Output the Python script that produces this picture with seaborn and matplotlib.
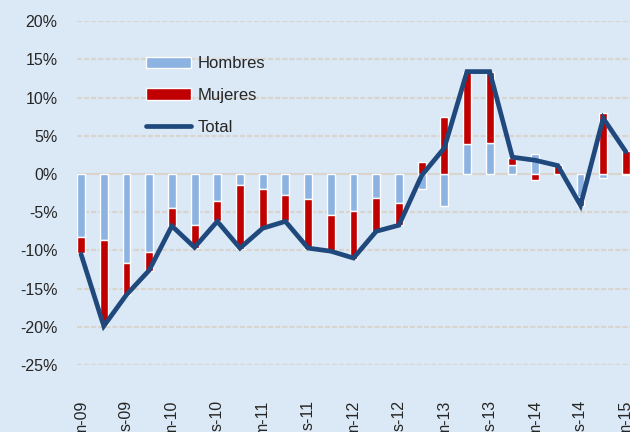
# Variación interanual del empleo por sexo (contribuciones) y total
import numpy as np
import pandas as pd
import matplotlib
matplotlib.use("Agg")
import matplotlib.pyplot as plt
import seaborn as sns

# ------------------------------
# Data (percentage points)
# ------------------------------
quarters = [
    "m-09", "j-09", "s-09", "d-09",
    "m-10", "j-10", "s-10", "d-10",
    "m-11", "j-11", "s-11", "d-11",
    "m-12", "j-12", "s-12", "d-12",
    "m-13", "j-13", "s-13", "d-13",
    "m-14", "j-14", "s-14", "d-14",
    "m-15",
]
hombres = [-8.2, -8.6, -11.6, -10.25, -4.4, -6.7, -3.5, -1.45,
           -2.0, -2.8, -3.3, -5.4, -4.9, -3.1, -3.75, -1.9,
           -4.15, 3.9, 4.1, 1.2, 2.6, 0.05, -2.95, -0.55, -0.1]
mujeres = [-2.2, -11.2, -4.2, -2.4, -2.4, -3.0, -2.65, -8.3,
           -5.1, -3.4, -6.5, -4.7, -6.2, -4.45, -2.95, 1.6,
           7.5, 9.5, 9.3, 0.85, -0.8, 1.1, -1.2, 7.95, 3.0]
total = [-10.5, -19.9, -15.8, -12.6, -6.8, -9.6, -6.2, -9.7,
         -7.1, -6.2, -9.7, -10.1, -11.0, -7.5, -6.7, -0.2,
         3.4, 13.4, 13.4, 2.2, 1.8, 1.1, -4.1, 7.3, 2.9]

df = pd.DataFrame({"q": quarters, "Hombres": hombres,
                   "Mujeres": mujeres, "Total": total})
df["pos"] = np.arange(len(df))
# Excel-style stacking: same sign stacks on Hombres, opposite sign starts at 0
same_sign = np.sign(df["Mujeres"]) == np.sign(df["Hombres"])
df["m_bottom"] = np.where(same_sign, df["Hombres"], 0.0)

# ------------------------------
# Style
# ------------------------------
bg = "#DBE8F5"
c_h = "#8DB3E2"
c_m = "#C00000"
c_t = "#1F497D"
grid_c = "#D9D4CE"

sns.set_theme(style="white")
plt.rcParams["font.family"] = ["Liberation Sans", "DejaVu Sans"]

fig = plt.figure(figsize=(6.3, 4.32), dpi=100, facecolor=bg)
ax = fig.add_axes([0.1222, 0.155, 0.8778, 0.796], facecolor=bg)

# grid lines
for v in range(-25, 25, 5):
    if v == 0:
        continue
    ax.axhline(v, color=grid_c, lw=1.5, ls=(0, (2.4, 1.0)), zorder=0)
ax.axhline(0, color=grid_c, lw=1.5, zorder=0.5)

w = 0.35
bh = ax.bar(df["pos"], df["Hombres"], width=w, color=c_h, label="Hombres", zorder=2)
bm = ax.bar(df["pos"], df["Mujeres"], width=w, bottom=df["m_bottom"],
            color=c_m, label="Mujeres", zorder=2)
sns.lineplot(data=df, x="pos", y="Total", color=c_t, lw=3.4, ax=ax,
             label="Total", zorder=3, solid_joinstyle="miter",
             solid_capstyle="round")

ax.set_xlim(-0.18, 24.18)
ax.set_ylim(-25, 20)
ax.set_yticks(range(-25, 25, 5))
ax.set_yticklabels([f"{v}%" for v in range(-25, 25, 5)], fontsize=11.5)
ax.set_xticks(df["pos"][::2])
ax.set_xticklabels(df["q"][::2], rotation=90, fontsize=11.5)
ax.tick_params(axis="x", pad=25, length=0)
ax.tick_params(axis="y", pad=14, length=0)
ax.set_xlabel("")
ax.set_ylabel("")
sns.despine(ax=ax, left=True, bottom=True)

handles, labels = ax.get_legend_handles_labels()
order = [labels.index(k) for k in ["Hombres", "Mujeres", "Total"]]
ax.legend([handles[i] for i in order], [labels[i] for i in order],
          loc="upper left", bbox_to_anchor=(0.098, 0.941),
          frameon=False, fontsize=12, handlelength=2.7,
          handleheight=0.7, handletextpad=0.4, labelspacing=1.0)

fig.savefig("out.png", dpi=100, facecolor=bg)
